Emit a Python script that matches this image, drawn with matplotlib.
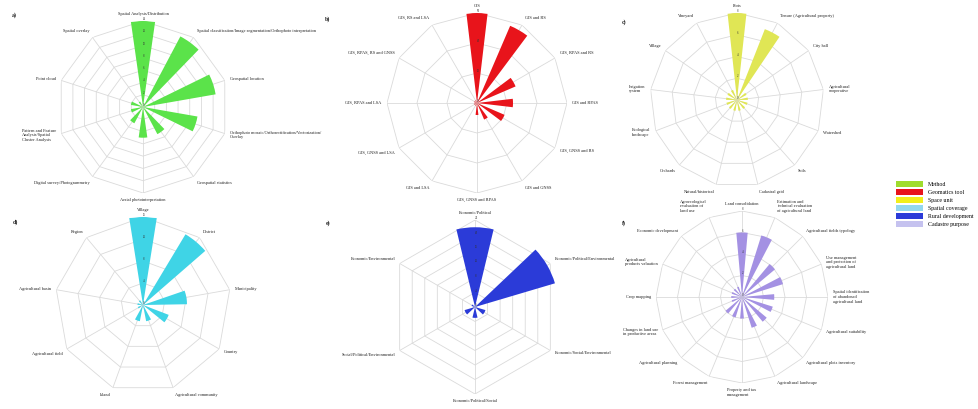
import numpy as np
import matplotlib
matplotlib.use("Agg")
import matplotlib.pyplot as plt
from matplotlib.patches import Patch

plt.rcParams['font.family'] = ['Liberation Serif', 'DejaVu Serif']

# ---------------- data ----------------
# a) Method
method_labels = [
    "Spatial Analysis/Distribution",
    "Spatial classification/Image segmentation/Orthophoto interpretation",
    "Geospatial location",
    "Orthophoto mosaic/Orthorectification/Vectorization/\nOverlay",
    "Geospatial statistics",
    "Aerial photointerpretation",
    "Digital survey/Photogrammetry",
    "Pattern and Feature\nAnalysis/Spatial\nCluster Analysis",
    "Point cloud",
    "Spatial overlay",
]
method_counts = [14, 13, 12, 9, 5, 5, 3, 2, 2, 1]
method_ticks = [0, 2, 4, 6, 8, 10, 12, 14]

# b) Geomatics tool
tool_labels = [
    "GIS", "GIS and RS", "GIS, RPAS and RS", "GIS and RPAS",
    "GIS, GNSS and RS", "GIS and GNSS", "GIS, GNSS and RPAS", "GIS and LSA",
    "GIS, GNSS and LSA", "GIS, RPAS and LSA", "GIS, RPAS, RS and GNSS",
    "GIS, RS and LSA",
]
tool_counts = [30, 28, 14, 12, 10, 6, 4, 1, 1, 1, 1, 1]
tool_ticks = [0, 10, 20, 30]

# c) Space unit
unit_labels = [
    "Plots", "Tenure (Agricultural property)", "City hall",
    "Agricultural\ncooperative", "Watershed", "Soils", "Cadastral grid",
    "Natural/historical", "Orchards", "Ecological\nlandscape",
    "Irrigation\nsystem", "Village", "Vineyard",
]
unit_counts = [8, 7, 1, 1, 1, 1, 1, 1, 1, 1, 1, 1, 1]
unit_ticks = [0, 2, 4, 6, 8]

# d) Spatial coverage
coverage_labels = [
    "Village", "District", "Municipality", "Country",
    "Agricultural community", "Island", "Agricultural field",
    "Agricultural basin", "Region",
]
coverage_counts = [16, 15, 8, 5, 3, 3, 1, 1, 1]
coverage_ticks = [0, 4, 8, 12, 16]

# e) Rural development
rural_labels = [
    "Economic/Political", "Economic/Political/Environmental",
    "Economic/Social/Environmental", "Economic/Political/Social",
    "Social/Political/Environmental", "Economic/Environmental",
]
rural_counts = [22, 23, 3, 3, 3, 1]
rural_ticks = [0, 4, 8, 12, 16, 20, 24]

# f) Cadastre purpose
purpose_labels = [
    "Land consolidation",
    "Estimation and\ntechnical evaluation\nof agricultural land",
    "Agricultural fields typology",
    "Use management\nand protection of\nagricultural land",
    "Spatial identification\nof abandoned\nagricultural land",
    "Agricultural suitability",
    "Agricultural plots inventory",
    "Agricultural landscape",
    "Property and tax\nmanagement",
    "Forest management",
    "Agricultural planning",
    "Changes in land use\nin productive areas",
    "Crop mapping",
    "Agricultural\nproducts valuation",
    "Economic development",
    "Agroecological\nevaluation of\nland use",
]
purpose_counts = [6, 6, 4, 4, 3, 3, 3, 3, 2, 2, 2, 1, 1, 1, 1, 1]
purpose_ticks = [0, 2, 4, 6, 8]

legend_labels = ["Method", "Geomatics tool", "Space unit", "Spatial coverage",
                 "Rural development", "Cadastre purpose"]
legend_colors = ["#9fdc2d", "#e8141b", "#f2ef1c", "#93d8ef", "#2b3bd8", "#c5c2ef"]

# ---------------- drawing ----------------
W, H = 979, 409
fig = plt.figure(figsize=(W / 100, H / 100), dpi=100)

GRID = "#dadada"


def radar_bars(cx, cy, R, labels, counts, ticks, color, label_fs=3.2):
    ax = fig.add_axes([(cx - R) / W, 1 - (cy + R) / H, 2 * R / W, 2 * R / H],
                      projection="polar")
    ax.set_theta_zero_location("N")
    ax.set_theta_direction(-1)
    n = len(labels)
    theta = np.arange(n) * 2 * np.pi / n
    rmax = ticks[-1]

    # polygon rings and spokes
    closed = np.append(theta, theta[0])
    for t in ticks[1:]:
        ax.plot(closed, [t] * (n + 1), color=GRID, lw=0.6, zorder=0.5)
    for th in theta:
        ax.plot([th, th], [0, rmax], color=GRID, lw=0.6, zorder=0.5)

    ax.bar(theta, counts, width=0.45 * 2 * np.pi / n, color=color,
           edgecolor="none", zorder=1)

    ax.set_ylim(0, rmax)
    ax.set_xticks([])
    ax.set_yticks(ticks)
    ax.set_yticklabels([str(t) for t in ticks], fontsize=2.2, color="#333333")
    ax.set_rlabel_position(0)
    ax.set_axisbelow(False)
    ax.grid(False)
    ax.spines["polar"].set_visible(False)
    ax.patch.set_alpha(0)

    for th, lab in zip(theta, labels):
        s, c = np.sin(th), np.cos(th)
        ha = "left" if s > 0.15 else ("right" if s < -0.15 else "center")
        va = "bottom" if c > 0.5 else ("top" if c < -0.5 else "center")
        ax.text(th, rmax * 1.06, lab, ha=ha, va=va, fontsize=label_fs,
                color="#222222", multialignment="left", clip_on=False)
    return ax


radar_bars(143, 107, 86, method_labels, method_counts, method_ticks, "#5be34a")
radar_bars(477, 103, 90, tool_labels, tool_counts, tool_ticks, "#e8141b")
radar_bars(737, 100, 87, unit_labels, unit_counts, unit_ticks, "#e0e655")
radar_bars(143, 305, 88, coverage_labels, coverage_counts, coverage_ticks, "#3fd4e6")
radar_bars(475, 307, 87, rural_labels, rural_counts, rural_ticks, "#2b3bd8")
radar_bars(742, 297, 86, purpose_labels, purpose_counts, purpose_ticks, "#a491e3")

# panel letters
for x, y, s in [(12, 15, "a)"), (325, 19, "b)"), (622, 22, "c)"),
                (13, 222, "d)"), (326, 223, "e)"), (622, 223, "f)")]:
    fig.text(x / W, 1 - y / H, s, fontsize=4.2, fontweight="bold",
             ha="left", va="center", color="#222222")

handles = [Patch(facecolor=c, edgecolor="none") for c in legend_colors]
fig.legend(handles, legend_labels, loc="upper left",
           bbox_to_anchor=(896 / W, 1 - 181 / H), frameon=False,
           fontsize=4.2, handlelength=4.6, handleheight=1.3,
           labelspacing=0.28, handletextpad=0.8, borderpad=0,
           borderaxespad=0)

fig.savefig("out.png", dpi=100, facecolor="white")
